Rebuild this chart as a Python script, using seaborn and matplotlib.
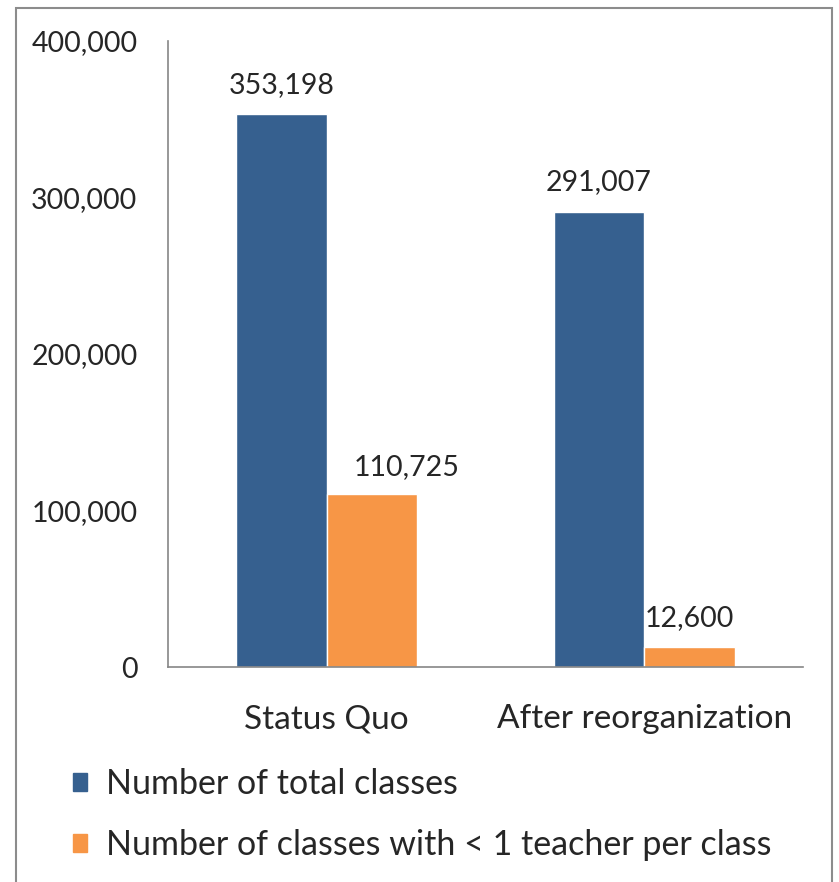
import matplotlib
matplotlib.use("Agg")
import matplotlib.pyplot as plt
import matplotlib.patches as mpatches
import seaborn as sns
import pandas as pd

categories = ["Status Quo", "After reorganization"]
series = ["Number of total classes", "Number of classes with < 1 teacher per class"]
total_classes = [353198, 291007]
under_one_teacher = [110725, 12600]
colors = ["#36608F", "#F79646"]
yticks = [0, 100000, 200000, 300000, 400000]

df = pd.DataFrame({
    "category": categories * 2,
    "series": [series[0]] * 2 + [series[1]] * 2,
    "value": total_classes + under_one_teacher,
})

sns.set_style("white")
plt.rcParams["font.family"] = ["Lato", "DejaVu Sans"]

fig = plt.figure(figsize=(8.39, 8.82), dpi=100)
ax = fig.add_axes([168 / 839, 1 - 667 / 882, (803 - 168) / 839, (667 - 41) / 882])

sns.barplot(data=df, x="category", y="value", hue="series", palette=colors,
            width=0.57, saturation=1, ax=ax, legend=False)

# labels above bars
for cont in ax.containers:
    ax.bar_label(cont, labels=[f"{v:,.0f}" for v in cont.datavalues],
                 padding=12, fontsize=20.5)

# the 110,725 label sits a bit to the right in the original
lbl = [t for t in ax.texts if t.get_text() == "110,725"][0]
x, y = lbl.xyann
lbl.xyann = (x + 25, y - 2)

ax.set_ylim(0, 400000)
ax.set_xlim(-0.5, 1.5)
ax.set_yticks(yticks)
ax.set_yticklabels([f"{v:,}" for v in yticks], fontsize=20.5)
ax.set_xticks([0, 1])
ax.set_xticklabels(categories, fontsize=24)
ax.set_xticks([-0.5, 0.5, 1.5], minor=True)
ax.tick_params(axis="x", which="major", length=0, pad=27)
ax.tick_params(axis="x", which="minor", length=9, color="#868686", width=1.2)
ax.tick_params(axis="y", length=6, color="#868686", width=1.2, pad=16)
ax.set_xlabel("")
ax.set_ylabel("")
for s in ["top", "right"]:
    ax.spines[s].set_visible(False)
for s in ["left", "bottom"]:
    ax.spines[s].set_color("#868686")
    ax.spines[s].set_linewidth(1.2)

handles = [mpatches.Patch(color=c, label=l) for c, l in zip(colors, series)]
fig.legend(handles=handles, loc="upper left", bbox_to_anchor=(73 / 839, 1 - 768 / 882),
           frameon=False, fontsize=24.5, handlelength=0.42, handleheight=0.42,
           handletextpad=0.55, labelspacing=0.85, borderaxespad=0, borderpad=0)

# outer border of the chart area
fig.patches.append(mpatches.Rectangle((16 / 839, -0.1), (832 - 16) / 839, 1.1 - 8 / 882,
                                      transform=fig.transFigure, fill=False,
                                      edgecolor="#8C8C8C", linewidth=1.5))

fig.savefig("out.png", dpi=100)
